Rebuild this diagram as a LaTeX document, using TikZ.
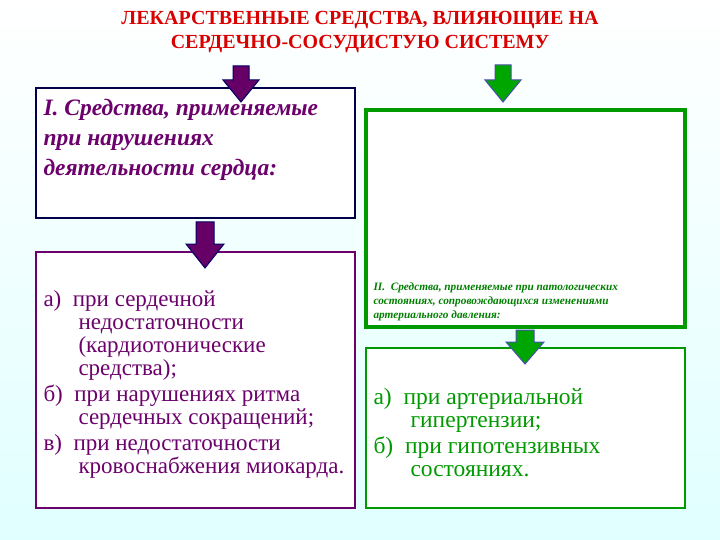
\documentclass[tikz,border=0pt]{standalone}
\usepackage{fontspec}
\setmainfont{Liberation Serif}
\begin{document}
\begin{tikzpicture}[x=1pt,y=-1pt,
  purp/.style={draw=violet!85!black,line width=2.5pt},
  grn/.style={draw=green!60!black,line width=3.5pt},
  parrow/.style={fill=violet!80!black,draw=blue!40!black,line width=1pt},
  garrow/.style={fill=green!65!black,draw=blue!40!gray,line width=1pt}]
\shade[top color=white,bottom color=cyan!12] (0,0) rectangle (720,540);
\useasboundingbox (0,0) rectangle (720,540);
\node[text=red!85!black,font=\bfseries\fontsize{20}{24}\selectfont,align=center] (title) at (360,32) {ЛЕКАРСТВЕННЫЕ СРЕДСТВА, ВЛИЯЮЩИЕ НА\\ СЕРДЕЧНО-СОСУДИСТУЮ СИСТЕМУ};
\draw[draw=blue!30!black,line width=2.5pt,fill=white] (36,88) rectangle (355,218);
\node[anchor=north west,text=violet!85!black,font=\bfseries\itshape\fontsize{23.5}{30}\selectfont,align=left] (t1) at (40,96) {I. Средства, применяемые\\при нарушениях\\деятельности сердца:};
\draw[purp,fill=white] (36,252) rectangle (355,508);
\node[anchor=north west,text=violet!85!black,font=\fontsize{23}{23}\selectfont,align=left] (t2) at (40,287) {%
а)\ \ при сердечной\\\hspace*{35pt}недостаточности\\\hspace*{35pt}(кардиотонические\\\hspace*{35pt}средства);\\[3pt]
б)\ \ при нарушениях ритма\\\hspace*{35pt}сердечных сокращений;\\[3pt]
в)\ \ при недостаточности\\\hspace*{35pt}кровоснабжения миокарда.};
\draw[grn,fill=white] (366,110) rectangle (685,327);
\node[anchor=north west,text=green!50!black,font=\bfseries\itshape\fontsize{11.3}{14}\selectfont,align=left] (t3) at (370,279) {II.\ \ Средства, применяемые при патологических\\состояниях, сопровождающихся изменениями\\артериального давления:};
\draw[grn,line width=2.5pt,fill=white] (366,348) rectangle (685,508);
\node[anchor=north west,text=green!60!black,font=\fontsize{23.5}{23}\selectfont,align=left] (t4) at (370,385) {%
а)\ \ при артериальной\\\hspace*{37pt}гипертензии;\\[3pt]
б)\ \ при гипотензивных\\\hspace*{37pt}состояниях.};
\draw[parrow] (233,66) -- (249,66) -- (249,80) -- (259,80) -- (241,102) -- (223,80) -- (233,80) -- cycle;
\draw[parrow] (196,222) -- (214,222) -- (214,244) -- (224,244) -- (205,268) -- (186,244) -- (196,244) -- cycle;
\draw[garrow] (495,65) -- (511,65) -- (511,80) -- (521,80) -- (503,102) -- (485,80) -- (495,80) -- cycle;
\draw[garrow] (516,330) -- (534,330) -- (534,342) -- (544,342) -- (525,364) -- (506,342) -- (516,342) -- cycle;
\end{tikzpicture}
\end{document}
